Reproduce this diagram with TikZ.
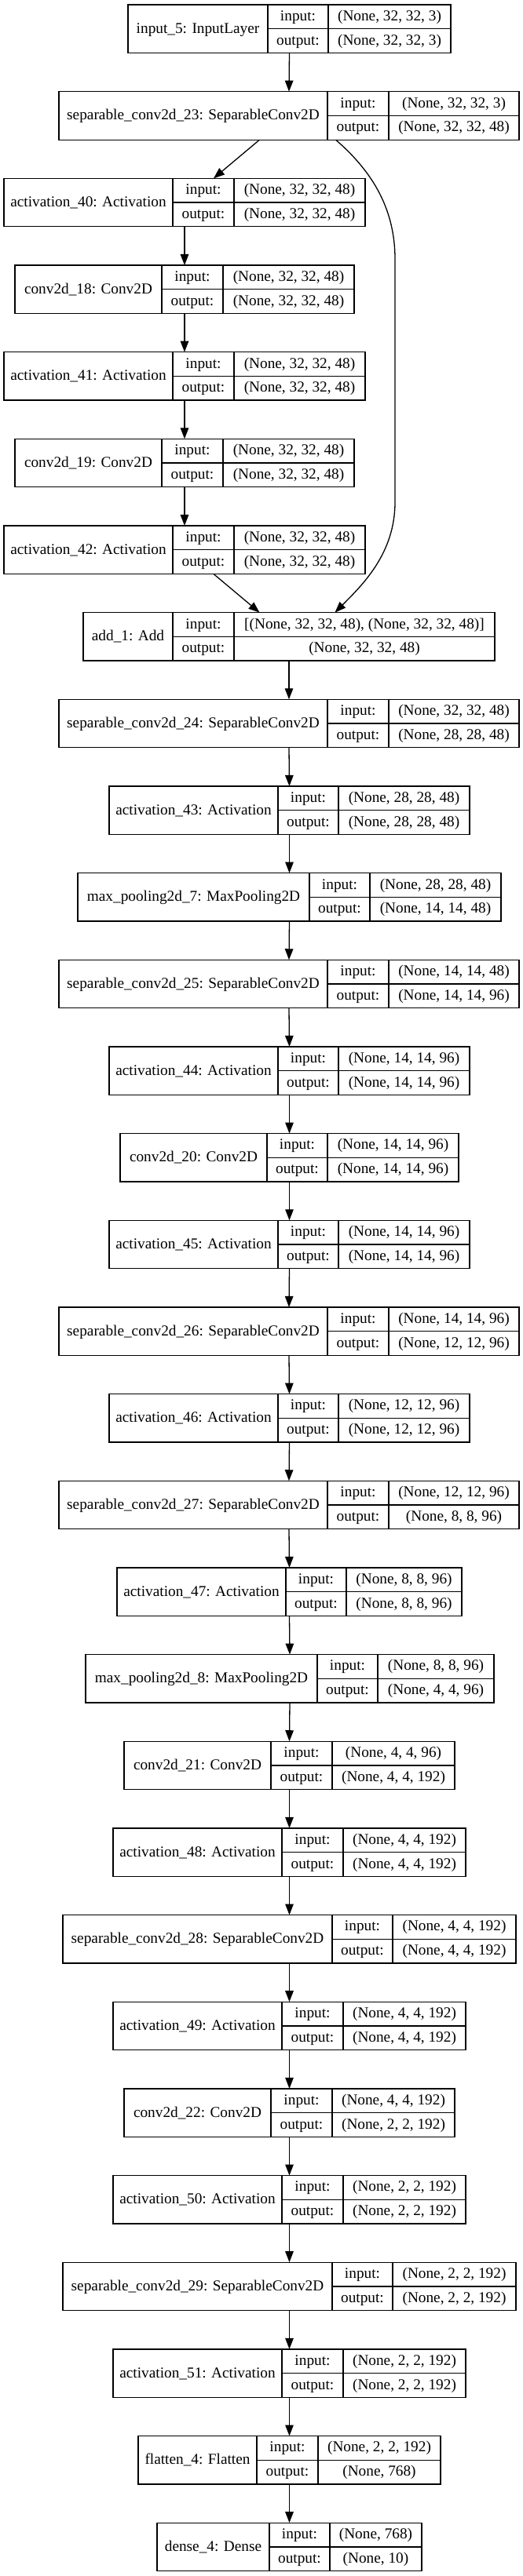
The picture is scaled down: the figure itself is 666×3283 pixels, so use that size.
\documentclass[tikz,border=0pt]{standalone}
\usepackage{fontspec}
\setmainfont{Liberation Serif}
\usetikzlibrary{arrows.meta}
\tikzset{
  box/.style={draw, line width=1.3pt, inner sep=0pt, outer sep=0pt, rectangle},
  txt/.style={anchor=base, inner sep=0pt, outer sep=0pt, font=\fontsize{19.3}{23}\selectfont},
  cell/.style={line width=1.3pt},
  arr/.style={line width=1.3pt, -{Triangle[length=14pt,width=10.5pt]}},
}
\newcommand{\klayer}[9]{%
  \pgfmathsetmacro\kyt{6+110.66*#2}%
  \pgfmathsetmacro\kym{\kyt+30.75}%
  \pgfmathsetmacro\kyb{\kyt+61.5}%
  \pgfmathsetmacro\kw{#6-#3}%
  \pgfmathsetmacro\kcx{(#3+#6)/2}%
  \node[box, minimum width=\kw pt, minimum height=61.5pt] (#1) at (\kcx,\kym) {};
  \draw[cell] (#4,\kyt) -- (#4,\kyb) (#5,\kyt) -- (#5,\kyb) (#4,\kym) -- (#6,\kym);
  \node[txt] (#1-l) at ({(#3+#4)/2},\kym+5.5) {#7};
  \node[txt] (#1-i) at ({(#4+#5)/2},\kyt+20.4) {input:};
  \node[txt] (#1-o) at ({(#4+#5)/2},\kym+20.4) {output:};
  \node[txt] (#1-iv) at ({(#5+#6)/2},\kyt+20.4) {#8};
  \node[txt] (#1-ov) at ({(#5+#6)/2},\kym+20.4) {#9};
}
\begin{document}
\begin{tikzpicture}[x=1pt,y=-1pt]
\useasboundingbox[fill=white] (0,0) rectangle (666,3283);
\klayer{L0}{0}{163}{341}{418}{574}{input\_5: InputLayer}{(None, 32, 32, 3)}{(None, 32, 32, 3)}
\klayer{L1}{1}{75}{417}{495}{661}{separable\_conv2d\_23: SeparableConv2D}{(None, 32, 32, 3)}{(None, 32, 32, 48)}
\klayer{L2}{2}{5}{220}{298}{465}{activation\_40: Activation}{(None, 32, 32, 48)}{(None, 32, 32, 48)}
\klayer{L3}{3}{19}{206}{284}{451}{conv2d\_18: Conv2D}{(None, 32, 32, 48)}{(None, 32, 32, 48)}
\klayer{L4}{4}{5}{220}{298}{465}{activation\_41: Activation}{(None, 32, 32, 48)}{(None, 32, 32, 48)}
\klayer{L5}{5}{19}{206}{284}{451}{conv2d\_19: Conv2D}{(None, 32, 32, 48)}{(None, 32, 32, 48)}
\klayer{L6}{6}{5}{220}{298}{465}{activation\_42: Activation}{(None, 32, 32, 48)}{(None, 32, 32, 48)}
\klayer{L7}{7}{106}{220}{298}{630}{add\_1: Add}{[(None, 32, 32, 48), (None, 32, 32, 48)]}{(None, 32, 32, 48)}
\klayer{L8}{8}{75}{417}{495}{661}{separable\_conv2d\_24: SeparableConv2D}{(None, 32, 32, 48)}{(None, 28, 28, 48)}
\klayer{L9}{9}{139}{354}{431}{598}{activation\_43: Activation}{(None, 28, 28, 48)}{(None, 28, 28, 48)}
\klayer{L10}{10}{99}{394}{471}{638}{max\_pooling2d\_7: MaxPooling2D}{(None, 28, 28, 48)}{(None, 14, 14, 48)}
\klayer{L11}{11}{75}{417}{495}{661}{separable\_conv2d\_25: SeparableConv2D}{(None, 14, 14, 48)}{(None, 14, 14, 96)}
\klayer{L12}{12}{139}{354}{431}{598}{activation\_44: Activation}{(None, 14, 14, 96)}{(None, 14, 14, 96)}
\klayer{L13}{13}{153}{340}{417}{584}{conv2d\_20: Conv2D}{(None, 14, 14, 96)}{(None, 14, 14, 96)}
\klayer{L14}{14}{139}{354}{431}{598}{activation\_45: Activation}{(None, 14, 14, 96)}{(None, 14, 14, 96)}
\klayer{L15}{15}{75}{417}{495}{661}{separable\_conv2d\_26: SeparableConv2D}{(None, 14, 14, 96)}{(None, 12, 12, 96)}
\klayer{L16}{16}{139}{354}{431}{598}{activation\_46: Activation}{(None, 12, 12, 96)}{(None, 12, 12, 96)}
\klayer{L17}{17}{75}{417}{495}{661}{separable\_conv2d\_27: SeparableConv2D}{(None, 12, 12, 96)}{(None, 8, 8, 96)}
\klayer{L18}{18}{149}{364}{441}{588}{activation\_47: Activation}{(None, 8, 8, 96)}{(None, 8, 8, 96)}
\klayer{L19}{19}{109}{404}{481}{629}{max\_pooling2d\_8: MaxPooling2D}{(None, 8, 8, 96)}{(None, 4, 4, 96)}
\klayer{L20}{20}{158}{345}{423}{579}{conv2d\_21: Conv2D}{(None, 4, 4, 96)}{(None, 4, 4, 192)}
\klayer{L21}{21}{144}{359}{437}{593}{activation\_48: Activation}{(None, 4, 4, 192)}{(None, 4, 4, 192)}
\klayer{L22}{22}{80}{423}{500}{657}{separable\_conv2d\_28: SeparableConv2D}{(None, 4, 4, 192)}{(None, 4, 4, 192)}
\klayer{L23}{23}{144}{359}{437}{593}{activation\_49: Activation}{(None, 4, 4, 192)}{(None, 4, 4, 192)}
\klayer{L24}{24}{158}{345}{423}{579}{conv2d\_22: Conv2D}{(None, 4, 4, 192)}{(None, 2, 2, 192)}
\klayer{L25}{25}{144}{359}{437}{593}{activation\_50: Activation}{(None, 2, 2, 192)}{(None, 2, 2, 192)}
\klayer{L26}{26}{80}{423}{500}{657}{separable\_conv2d\_29: SeparableConv2D}{(None, 2, 2, 192)}{(None, 2, 2, 192)}
\klayer{L27}{27}{144}{359}{437}{593}{activation\_51: Activation}{(None, 2, 2, 192)}{(None, 2, 2, 192)}
\klayer{L28}{28}{176}{327}{405}{561}{flatten\_4: Flatten}{(None, 2, 2, 192)}{(None, 768)}
\klayer{L29}{29}{200}{343}{420}{537}{dense\_4: Dense}{(None, 768)}{(None, 10)}
% connectors
\draw[arr] (L0.south) -- (L1.north);
\draw[arr] ([xshift=-37.5pt]L1.south) -- ([xshift=37pt]L2.north);
\draw[arr] (L2.south) -- (L3.north);
\draw[arr] (L3.south) -- (L4.north);
\draw[arr] (L4.south) -- (L5.north);
\draw[arr] (L5.south) -- (L6.north);
\draw[arr] ([xshift=37pt]L6.south) -- ([xshift=-37.5pt]L7.north);
\coordinate (s1) at (503,330);
\coordinate (s2) at (503,640);
\draw[arr] ([xshift=59.5pt]L1.south) .. controls (470,215) and (503,262) .. (s1) -- (s2) .. controls (503,705) and (462,745) .. ([xshift=58.5pt]L7.north);
\foreach \a/\b in {7/8,8/9,9/10,10/11,11/12,12/13,13/14,14/15,15/16,16/17,17/18,18/19,19/20,20/21,21/22,22/23,23/24,24/25,25/26,26/27,27/28,28/29}{
  \draw[arr] (L\a.south) -- (L\b.north);
}
\end{tikzpicture}
\end{document}
